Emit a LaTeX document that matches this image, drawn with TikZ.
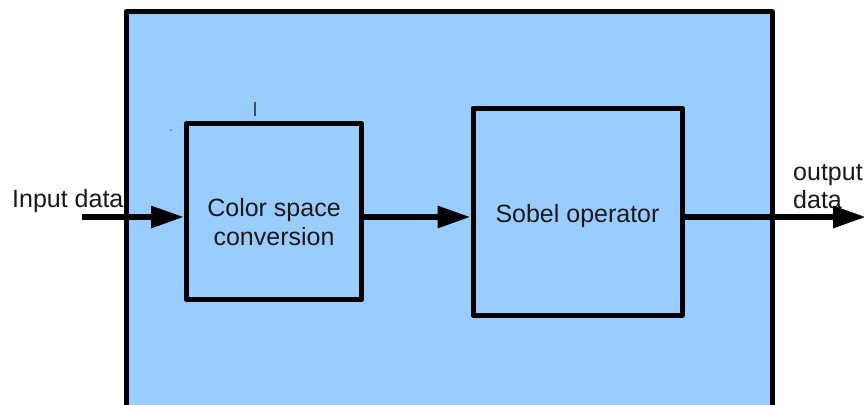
\documentclass[tikz,border=0pt]{standalone}
\usepackage{fontspec}
\setmainfont{Liberation Sans}
\usetikzlibrary{arrows.meta}
\definecolor{panel}{HTML}{99CCFF}
\tikzset{
  blk/.style={draw=black, line width=5pt, fill=panel, inner sep=0pt, line join=round},
  lbl/.style={font=\fontsize{25}{29}\selectfont, inner sep=0pt, text=black!90},
  flow/.style={line width=6pt, -{Triangle[length=33pt,width=21pt]}}
}
\begin{document}
\begin{tikzpicture}[x=1pt,y=-1pt]
\useasboundingbox (0,0) rectangle (864,404);
\fill[white] (0,0) rectangle (864,404);
\begin{scope}
\clip (0,0) rectangle (864,404);
\draw[blk] (126,12) rectangle (772,430);
\node[blk, minimum width=175pt, minimum height=176pt] (b1) at (274,211.5) {};
\node[blk, minimum width=209pt, minimum height=207pt] (b2) at (577.5,211.5) {};
\node[lbl, anchor=base, align=center] (t1) at (274,216) {Color space};
\node[lbl, anchor=base] (t1b) at (274,245) {conversion};
\node[lbl, anchor=base] (t2) at (577.5,222) {Sobel operator};
\node[lbl, anchor=base west] (tin) at (12,207) {Input data};
\node[lbl, anchor=base west] (tout) at (793,180) {output};
\node[lbl, anchor=base west] (tout2) at (793,208) {data};
\coordinate (in) at (82,217);
\coordinate (out) at (866,217);
\draw[flow] (in) -- (in -| b1.west);
\draw[flow] (b1.east |- in) -- (b2.west |- in);
\draw[flow] (b2.east |- in) -- (out);
\coordinate (tk1) at (255,102);
\coordinate (tk2) at (255,116);
\draw[line width=1.5pt, black!70] (tk1) -- (tk2);
\coordinate (dt) at (171,130);
\fill[black!60] (dt) circle (0.8pt);
\end{scope}
\end{tikzpicture}
\end{document}
